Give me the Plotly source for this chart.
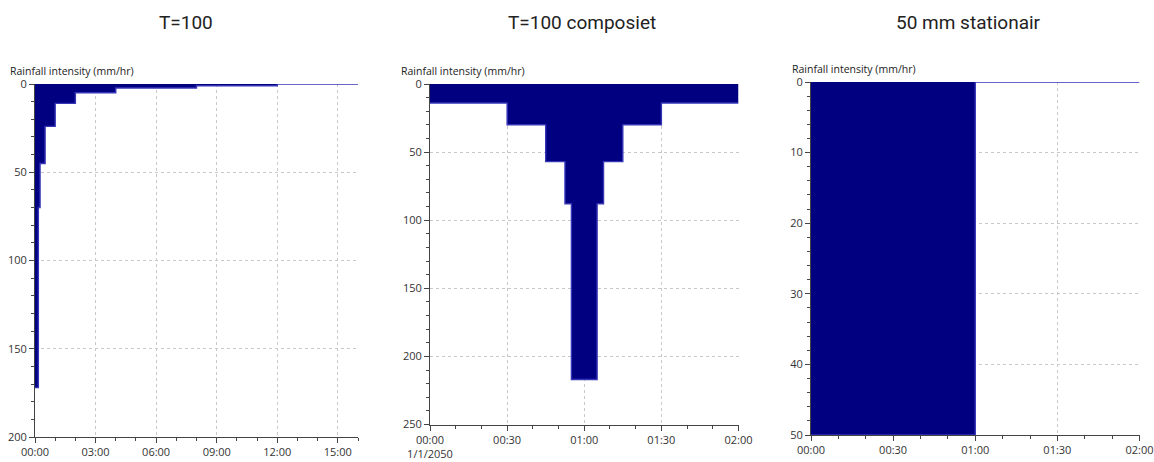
import plotly.graph_objects as go

# ---------------- data ----------------
# Panel 1: T=100 (step edges in hours, intensities mm/hr)
t100_edges_h = [0, 1/6, 0.25, 0.5, 1, 2, 4, 8, 12, 16]
t100_values = [172, 70, 45, 24, 11, 5, 2.3, 1, 0]

# Panel 2: T=100 composiet (edges in minutes)
comp_edges_min = [0, 30, 45, 52.5, 55, 65, 67.5, 75, 90, 120]
comp_values = [14, 30, 57, 88, 217, 88, 57, 30, 14]

# Panel 3: 50 mm stationair (edges in minutes)
stat_edges_min = [0, 60, 120]
stat_values = [50, 0]

titles = ["T=100", "T=100 composiet", "50 mm stationair"]
y_label = "Rainfall intensity (mm/hr)"

p1_tickvals = [0, 3, 6, 9, 12, 15]
p1_ticktext = ["00:00", "03:00", "06:00", "09:00", "12:00", "15:00"]
p2_tickvals = [0, 30, 60, 90, 120]
p2_ticktext = ["00:00<br>1/1/2050", "00:30", "01:00", "01:30", "02:00"]
p3_tickvals = [0, 30, 60, 90, 120]
p3_ticktext = ["00:00", "00:30", "01:00", "01:30", "02:00"]

# ---------------- figure ----------------
W, H = 1154, 462
FILL = "#000080"
LINE = "#3535b8"
AXC = "#444444"
TXT = "#333333"
FONT = "Open Sans, DejaVu Sans, sans-serif"

fig = go.Figure()

def step_trace(edges, vals, xa, ya):
    return go.Scatter(
        x=list(edges), y=list(vals) + [vals[-1]],
        mode="lines", line=dict(shape="hv", color=LINE, width=1.4),
        fill="tozeroy", fillcolor=FILL,
        xaxis=xa, yaxis=ya, hoverinfo="skip", showlegend=False,
    )

fig.add_trace(step_trace(t100_edges_h, t100_values, "x", "y"))
fig.add_trace(step_trace(comp_edges_min, comp_values, "x2", "y2"))
fig.add_trace(step_trace(stat_edges_min, stat_values, "x3", "y3"))

def px_x(a, b):
    return [a / W, b / W]

def px_y(top, bottom):
    return [1 - bottom / H, 1 - top / H]

grid = dict(showgrid=True, gridcolor="#c8c8c8", griddash="dot", gridwidth=1)
axis_common = dict(
    showline=True, linecolor=AXC, linewidth=1, ticks="outside", ticklen=5,
    tickcolor=AXC, tickwidth=1, zeroline=False, automargin=False,
    tickfont=dict(family=FONT, size=11, color=TXT), fixedrange=True,
)

fig.update_layout(
    width=W, height=H, margin=dict(l=0, r=0, t=0, b=0, pad=0, autoexpand=False),
    paper_bgcolor="white", plot_bgcolor="white", showlegend=False,
    xaxis=dict(domain=px_x(35, 358), anchor="y", range=[0, 16], tickmode="array",
               tickvals=p1_tickvals, ticktext=p1_ticktext,
               minor=dict(dtick=1, tick0=0, ticks="outside", ticklen=3, tickcolor=AXC, showgrid=False),
               **grid, **axis_common),
    yaxis=dict(domain=px_y(84, 437), anchor="x", range=[200, 0], dtick=50,
               minor=dict(dtick=10, ticks="outside", ticklen=3, tickcolor=AXC, showgrid=False),
               **grid, **axis_common),
    xaxis2=dict(domain=px_x(430, 738.5), anchor="y2", range=[0, 120], tickmode="array",
                tickvals=p2_tickvals, ticktext=p2_ticktext,
                minor=dict(dtick=10, tick0=0, ticks="outside", ticklen=3, tickcolor=AXC, showgrid=False),
                **grid, **axis_common),
    yaxis2=dict(domain=px_y(84, 424.5), anchor="x2", range=[250, 0], dtick=50,
                minor=dict(dtick=10, ticks="outside", ticklen=3, tickcolor=AXC, showgrid=False),
                **grid, **axis_common),
    xaxis3=dict(domain=px_x(811, 1139.5), anchor="y3", range=[0, 120], tickmode="array",
                tickvals=p3_tickvals, ticktext=p3_ticktext,
                minor=dict(dtick=10, tick0=0, ticks="outside", ticklen=3, tickcolor=AXC, showgrid=False),
                **grid, **axis_common),
    yaxis3=dict(domain=px_y(82, 435), anchor="x3", range=[50, 0], dtick=10,
                minor=dict(dtick=2, ticks="outside", ticklen=3, tickcolor=AXC, showgrid=False),
                **grid, **axis_common),
)

# titles
for cx, t in zip([186, 582, 968], titles):
    fig.add_annotation(x=cx / W, y=1 - 22 / H, xref="paper", yref="paper", text=t,
                       showarrow=False, xanchor="center", yanchor="middle",
                       font=dict(family="Roboto, sans-serif", size=19, color="#222222"))

# y-axis labels
for lx, ly in zip([8, 399, 790], [71, 71, 69]):
    fig.add_annotation(x=lx / W, y=1 - ly / H, xref="paper", yref="paper", text=y_label,
                       showarrow=False, xanchor="left", yanchor="middle",
                       font=dict(family=FONT, size=10.5, color="#222222"))

fig.write_html("out.html")
